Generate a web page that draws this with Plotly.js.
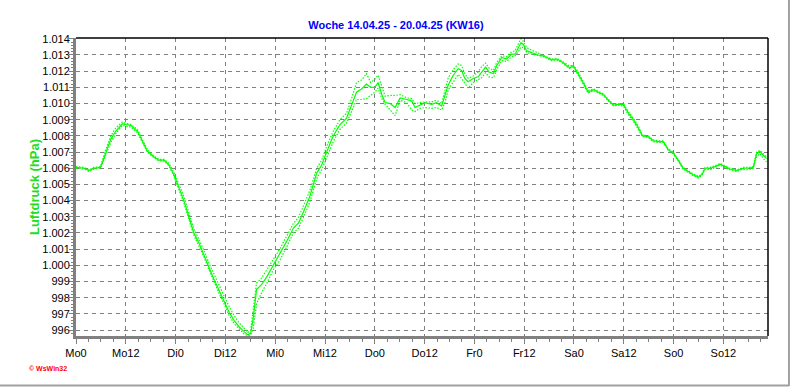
<!DOCTYPE html>
<html>
<head>
<meta charset="utf-8">
<script src="https://cdn.plot.ly/plotly-3.0.1.min.js"></script>
<style>html,body{margin:0;padding:0;background:#fff;}#chart{width:792px;height:387px;}</style>
</head>
<body>
<div id="chart"></div>
<script>
// hours since Monday 00:00
const hours = [0,1.1,2,3.1,4.3,5.9,7.1,8.4,9.6,11.2,12.1,13.2,14.8,16,17.2,18.8,20,21.2,22.4,23.6,
24.8,26,27.2,28.4,29.6,30.8,32,33.3,34.5,35.7,36.9,38.1,39.3,40.5,41.4,42.1,42.7,43.5,44.7,46,
47.5,49.2,50.8,52.4,53.6,54.8,56.4,58,59.2,60.4,62,63.6,65.2,66.4,67.6,68.8,70,71,72,72.8,
73.7,74.5,75.7,76.9,78.1,79.7,80.9,81.7,82.9,84.1,85.7,86.9,88.1,88.9,89.7,90.9,92.1,92.9,93.7,94.5,
95.7,96.9,97.8,98.7,99.5,100.6,101.4,102.6,103.8,105,105.8,106.6,107.2,107.8,108.6,109.8,111.4,112.6,113.8,114.6,
115.8,117,118.2,119,119.8,121,122.2,123.4,124.7,125.9,127.1,128.3,129.5,130.7,131.9,133.1,134.3,135.5,136.5,137.9,
139.1,140.3,141.5,142.7,143.9,145.1,146.3,147.5,148.7,150,150.8,151.6,152.8,154,155.2,156.4,157.6,159.2,160.8,162,
163.2,164,164.8,165.6,166.4];

const pressure = [1006.05,1006.0,1006.0,1005.85,1006.0,1006.05,1006.9,1007.8,1008.3,1008.75,1008.7,1008.65,1008.3,1007.7,1007.05,1006.7,1006.5,1006.5,1006.2,1005.6,
1004.8,1004.0,1003.0,1002.0,1001.4,1000.7,999.9,999.1,998.4,997.8,997.1,996.6,996.2,995.9,995.7,995.8,996.7,998.5,998.8,999.3,
1000.0,1000.7,1001.5,1002.3,1002.6,1003.3,1004.3,1005.7,1006.2,1007.0,1008.0,1008.7,1009.1,1009.9,1010.7,1010.9,1011.2,1011.0,1011.0,1011.3,
1010.55,1010.05,1010.0,1009.75,1010.35,1010.25,1010.15,1009.75,1009.9,1010.05,1009.95,1010.05,1009.85,1010.45,1011.15,1011.75,1012.15,1012.05,1011.55,1011.35,
1011.55,1011.65,1011.95,1012.25,1011.95,1011.85,1012.35,1012.85,1012.75,1013.05,1013.05,1013.45,1013.75,1013.65,1013.25,1013.15,1013.0,1012.95,1012.8,1012.7,
1012.75,1012.6,1012.35,1012.2,1012.35,1011.85,1011.3,1010.7,1010.85,1010.7,1010.55,1010.2,1009.9,1009.95,1009.95,1009.4,1009.0,1008.5,1008.0,1007.95,
1007.7,1007.65,1007.65,1007.15,1006.95,1006.5,1006.0,1005.8,1005.6,1005.45,1005.6,1006.0,1006.0,1006.1,1006.25,1006.1,1005.95,1005.85,1006.0,1006.0,
1006.05,1006.9,1007.05,1006.8,1006.6];

const pressureMax = [1006.1,1006.05,1006.05,1005.9,1006.05,1006.1,1007.1,1008.0,1008.5,1008.85,1008.8,1008.7,1008.4,1007.8,1007.15,1006.75,1006.55,1006.55,1006.3,1005.75,
1005.0,1004.25,1003.25,1002.25,1001.6,1000.95,1000.15,999.4,998.7,998.1,997.45,996.9,996.45,996.1,995.85,996.0,997.4,998.9,999.2,999.7,
1000.35,1001.05,1001.85,1002.6,1002.95,1003.65,1004.65,1006.0,1006.5,1007.35,1008.3,1009.0,1009.4,1010.3,1011.3,1011.45,1011.85,1011.3,1011.5,1011.75,
1011.1,1010.45,1010.5,1010.5,1010.55,1010.35,1010.3,1010.0,1010.05,1010.1,1010.1,1010.2,1010.0,1010.75,1011.6,1012.1,1012.45,1012.35,1011.85,1011.55,
1011.7,1011.95,1012.3,1012.5,1012.2,1012.05,1012.55,1012.95,1012.9,1013.2,1013.25,1013.7,1014.0,1013.85,1013.45,1013.3,1013.1,1013.0,1012.85,1012.75,
1012.8,1012.65,1012.45,1012.3,1012.4,1011.95,1011.4,1010.8,1010.9,1010.75,1010.6,1010.25,1009.95,1010.0,1010.0,1009.5,1009.1,1008.6,1008.05,1008.0,
1007.75,1007.7,1007.7,1007.2,1007.0,1006.55,1006.05,1005.85,1005.65,1005.5,1005.65,1006.05,1006.05,1006.15,1006.3,1006.15,1006.0,1005.9,1006.05,1006.05,
1006.1,1007.0,1007.1,1006.9,1006.7];

const pressureMin = [1006.0,1005.95,1005.95,1005.8,1005.95,1006.0,1006.75,1007.6,1008.15,1008.65,1008.6,1008.55,1008.2,1007.6,1007.0,1006.65,1006.45,1006.45,1006.15,1005.5,
1004.65,1003.85,1002.85,1001.85,1001.2,1000.55,999.75,998.95,998.25,997.6,996.9,996.4,996.05,995.75,995.65,995.7,996.1,997.6,998.3,998.9,
999.7,1000.35,1001.15,1002.0,1002.3,1002.95,1003.95,1005.35,1005.9,1006.65,1007.65,1008.4,1008.8,1009.5,1010.25,1010.25,1010.3,1010.5,1010.7,1010.95,
1010.3,1009.95,1009.6,1009.25,1010.2,1010.05,1009.6,1009.5,1009.7,1009.75,1009.7,1009.75,1009.6,1010.05,1010.85,1011.3,1011.8,1011.55,1011.25,1010.95,
1011.3,1011.5,1011.6,1011.9,1011.65,1011.6,1012.1,1012.65,1012.6,1012.9,1012.95,1013.2,1013.5,1013.45,1013.15,1013.05,1012.95,1012.9,1012.75,1012.65,
1012.7,1012.55,1012.3,1012.15,1012.3,1011.75,1011.2,1010.65,1010.8,1010.65,1010.5,1010.15,1009.85,1009.9,1009.85,1009.3,1008.9,1008.4,1007.95,1007.9,
1007.65,1007.6,1007.6,1007.1,1006.9,1006.45,1005.95,1005.75,1005.55,1005.4,1005.55,1005.95,1005.9,1006.05,1006.2,1006.05,1005.9,1005.8,1005.95,1005.9,
1006.0,1006.7,1006.9,1006.6,1006.4];

const xTickVals = [0,12,24,36,48,60,72,84,96,108,120,132,144,156];
const xTickText = ["Mo0","Mo12","Di0","Di12","Mi0","Mi12","Do0","Do12","Fr0","Fr12","Sa0","Sa12","So0","So12"];
const yTickVals = [996,997,998,999,1000,1001,1002,1003,1004,1005,1006,1007,1008,1009,1010,1011,1012,1013,1014];
const yTickText = ["996","997","998","999","1.000","1.001","1.002","1.003","1.004","1.005","1.006","1.007","1.008","1.009","1.010","1.011","1.012","1.013","1.014"];

const green = '#00ff00';
const traces = [
  {x: hours, y: pressureMax, type: 'scatter', mode: 'lines', line: {color: green, width: 1.2, dash: '1.5px,1.5px'}, hoverinfo: 'skip'},
  {x: hours, y: pressureMin, type: 'scatter', mode: 'lines', line: {color: green, width: 1.2, dash: '1.5px,1.5px'}, hoverinfo: 'skip'},
  {x: hours, y: pressure, type: 'scatter', mode: 'lines', line: {color: green, width: 1.2}}
];

const layout = {
  width: 792, height: 387,
  margin: {l: 76, r: 24, t: 38, b: 51, pad: 0},
  paper_bgcolor: '#ffffff', plot_bgcolor: '#ffffff',
  showlegend: false,
  font: {family: 'Liberation Sans, Arial, sans-serif', size: 11, color: '#000000'},
  title: {text: 'Woche 14.04.25 - 20.04.25 (KW16)', font: {family: 'Liberation Sans, Arial', size: 11, color: '#0000ff', weight: 'bold'}, x: 0.5, xanchor: 'center', y: 1 - 25/387, yanchor: 'middle'},
  xaxis: {
    range: [0, 166.75], tickmode: 'array', tickvals: xTickVals, ticktext: xTickText,
    showline: true, linecolor: '#808080', linewidth: 3,
    ticks: 'outside', ticklen: 5, tickcolor: '#808080', tickwidth: 1,
    showgrid: true, gridcolor: '#808080', gridwidth: 1, griddash: '4px,4px',
    minor: {dtick: 3, tick0: 0, ticks: 'outside', ticklen: 3, tickcolor: '#808080', showgrid: false},
    zeroline: false, fixedrange: true
  },
  yaxis: {
    range: [995.63, 1014.05], tickmode: 'array', tickvals: yTickVals, ticktext: yTickText,
    showline: true, linecolor: '#808080', linewidth: 3,
    ticks: 'outside', ticklen: 4, tickcolor: '#808080', tickwidth: 1,
    ticklabelstandoff: -3,
    showgrid: true, gridcolor: '#808080', gridwidth: 1, griddash: '4px,4px',
    minor: {dtick: 0.2, tick0: 996, ticks: 'outside', ticklen: 2, tickcolor: '#808080', showgrid: false},
    zeroline: false, fixedrange: true,
    title: {text: 'Luftdruck (hPa)', font: {size: 13, color: '#22dd22', weight: 'bold'}, standoff: 0}
  },
  shapes: [
    {type: 'line', xref: 'paper', yref: 'paper', x0: 0, x1: 1, y0: 1, y1: 1, line: {color: '#000000', width: 1.5}},
    {type: 'line', xref: 'paper', yref: 'paper', x0: 1, x1: 1, y0: 0, y1: 1, line: {color: '#000000', width: 1.5}},
    {type: 'line', xref: 'paper', yref: 'paper', x0: 1.0303, x1: 1.0303, y0: -0.168, y1: 1.13, line: {color: '#a0a0a0', width: 2}},
    {type: 'line', xref: 'paper', yref: 'paper', x0: -0.11, x1: 1.0303, y0: -0.166, y1: -0.166, line: {color: '#a0a0a0', width: 2}}
  ],
  annotations: [
    {text: '© WsWin32', xref: 'paper', yref: 'paper', x: (27-76)/692, y: (336-368)/297.7, xanchor: 'left', yanchor: 'middle', showarrow: false, font: {size: 7, color: '#ff0000', weight: 'bold'}}
  ]
};

Plotly.newPlot('chart', traces, layout, {displayModeBar: false, staticPlot: true});
</script>
</body>
</html>
